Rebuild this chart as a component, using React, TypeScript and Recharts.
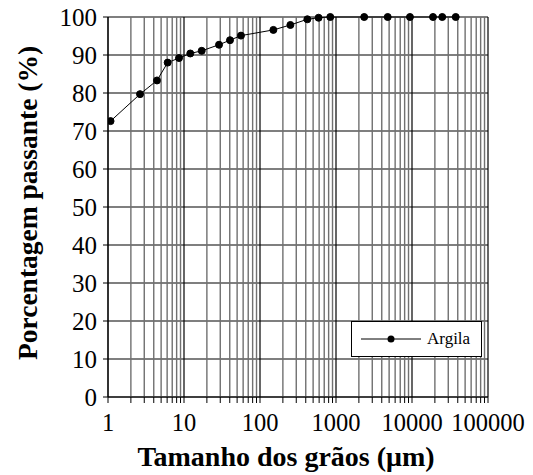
import React from 'react'
import { LineChart, Line, XAxis, YAxis, CartesianGrid, ReferenceLine } from 'recharts'

// grain size (µm) and percent passing
const graos = [1.08, 2.64, 4.41, 6.1, 8.6, 12.1, 17.1, 28.9, 40.3, 56.2, 150, 251, 420, 590, 841, 2350, 4790, 9400, 18900, 25000, 37600]
const passante = [72.6, 79.7, 83.3, 88.0, 89.2, 90.4, 91.1, 92.7, 93.9, 95.1, 96.6, 97.9, 99.4, 99.8, 100, 100, 100, 100, 100, 100, 100]

const decadas = [1, 10, 100, 1000, 10000, 100000]
const multiplos = [1, 2, 3, 4, 5, 6, 7, 8, 9]
const yTicks = [0, 10, 20, 30, 40, 50, 60, 70, 80, 90, 100]

const logTicks: number[] = []
decadas.slice(0, -1).forEach(d => multiplos.forEach(m => logTicks.push(d * m)))
logTicks.push(100000)

const data = graos.map((g, i) => ({ x: g, y: passante[i] }))

const FONT = 'Liberation Serif, serif'

const isDecade = (v: number) => Math.abs(Math.log10(v) - Math.round(Math.log10(v))) < 1e-9

function LegendBox() {
  return (
    <div
      style={{
        position: 'absolute',
        left: 351,
        top: 321,
        width: 131,
        height: 36,
        boxSizing: 'border-box',
        border: '1px solid #000',
        background: '#fff',
        display: 'flex',
        alignItems: 'center',
        fontFamily: FONT,
        fontSize: 17,
        color: '#000',
      }}
    >
      <svg width={66} height={12} style={{ marginLeft: 9 }}>
        <line x1={0} y1={6} x2={60} y2={6} stroke="#000" strokeWidth={1} />
        <circle cx={30} cy={6} r={3.5} fill="#000" />
      </svg>
      <span style={{ marginLeft: 0 }}>Argila</span>
    </div>
  )
}

const xTickStyle = { fill: '#000', fontSize: 24.5, fontFamily: FONT }
const yTickStyle = { fill: '#000', fontSize: 25, fontFamily: FONT }

export default function App() {
  return (
    <div style={{ position: 'absolute', left: 0, top: 0, background: '#fff' }}>
      <LineChart width={533} height={475} data={data} margin={{ top: 17, right: 45, bottom: 0, left: 0 }}>
        <CartesianGrid vertical={false} stroke="#000" strokeWidth={1.2} />
        {logTicks.map(v => (
          <ReferenceLine
            key={v}
            x={v}
            stroke={isDecade(v) ? '#000' : '#707070'}
            strokeWidth={isDecade(v) ? 1.2 : 1.4}
          />
        ))}
        <XAxis
          dataKey="x"
          type="number"
          scale="log"
          domain={[1, 100000]}
          ticks={logTicks}
          interval={0}
          allowDataOverflow
          height={78}
          stroke="#000"
          tickSize={6}
          tickMargin={11}
          tickFormatter={(v: number) => (isDecade(v) ? String(v) : '')}
          tick={xTickStyle}
        />
        <XAxis
          xAxisId="top"
          orientation="top"
          dataKey="x"
          type="number"
          scale="log"
          domain={[1, 100000]}
          ticks={logTicks}
          interval={0}
          allowDataOverflow
          height={0}
          stroke="#000"
          tickSize={4}
          tickFormatter={() => ''}
        />
        <YAxis
          type="number"
          domain={[0, 100]}
          ticks={yTicks}
          interval={0}
          width={108}
          stroke="#000"
          tickSize={5}
          tickMargin={6}
          tick={yTickStyle}
        />
        <YAxis yAxisId="right" orientation="right" domain={[0, 100]} width={0} tick={false} stroke="#000" />
        <Line
          dataKey="y"
          stroke="#000"
          strokeWidth={1}
          dot={{ r: 3.5, fill: '#000', stroke: '#000', strokeWidth: 1 }}
          isAnimationActive={false}
        />
        <text x={286} y={466} textAnchor="middle" fontFamily={FONT} fontWeight="bold" fontSize={28} fill="#000">
          Tamanho dos grãos (μm)
        </text>
        <text
          x={37}
          y={203}
          transform="rotate(-90, 37, 203)"
          textAnchor="middle"
          fontFamily={FONT}
          fontWeight="bold"
          fontSize={27.5}
          fill="#000"
        >
          Porcentagem passante (%)
        </text>
      </LineChart>
      <LegendBox />
    </div>
  )
}
